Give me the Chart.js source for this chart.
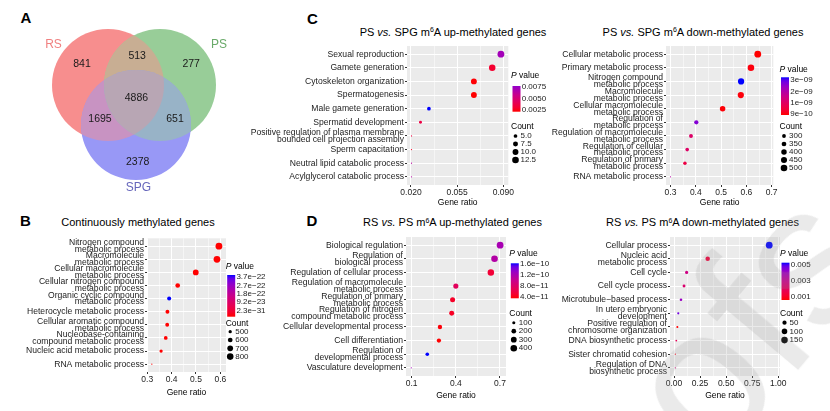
<!DOCTYPE html>
<html><head><meta charset="utf-8">
<script src="https://cdn.jsdelivr.net/npm/chart.js@4.4.1/dist/chart.umd.min.js"></script>
<style>
html,body{margin:0;padding:0;background:#fff;}
body{width:830px;height:411px;position:relative;overflow:hidden;font-family:"Liberation Sans",Arial,sans-serif;}
canvas{position:absolute;}
.letter{position:absolute;font-weight:bold;font-size:15px;line-height:15px;color:#000;}
.title{position:absolute;width:320px;text-align:center;font-size:11px;line-height:13px;color:#000;white-space:nowrap;}
.sup{font-size:7px;position:relative;top:-3.5px;}
.wm{position:absolute;left:748px;top:322px;transform:translate(-50%,-50%) rotate(-50deg);font-size:200px;line-height:200px;color:rgba(150,150,150,0.2);white-space:nowrap;pointer-events:none;z-index:10;}
</style></head><body>
<div class="letter" style="left:20.5px;top:9.7px">A</div>
<div class="letter" style="left:20px;top:213px">B</div>
<div class="letter" style="left:307px;top:10.7px">C</div>
<div class="letter" style="left:306.5px;top:213px">D</div>
<div class="title" style="left:-22px;top:216px">Continuously methylated genes</div>
<div class="title" style="left:293px;top:25.8px">PS <i>vs.</i> SPG m<span class="sup">6</span>A up-methylated genes</div>
<div class="title" style="left:543px;top:25.8px">PS <i>vs.</i> SPG m<span class="sup">6</span>A down-methylated genes</div>
<div class="title" style="left:292.5px;top:216px">RS <i>vs.</i> PS m<span class="sup">6</span>A up-methylated genes</div>
<div class="title" style="left:542.5px;top:216px">RS <i>vs.</i> PS m<span class="sup">6</span>A down-methylated genes</div>
<div class="wm">ofs</div>
<script>
// ================= DATA =================
const vennSetNames = ['RS', 'PS', 'SPG'];
// RS only, RS∩PS, PS only, RS∩PS∩SPG, RS∩SPG, PS∩SPG, SPG only
const vennRegionCounts = [841, 513, 277, 4886, 1695, 651, 2378];

// B: Continuously methylated genes
const bCategories = [
  ['Nitrogen compound','metabolic process'],
  ['Macromolecule','metabolic process'],
  ['Cellular macromolecule','metabolic process'],
  ['Cellular nitrogen compound','metabolic process'],
  ['Organic cyclic compound','metabolic process'],
  ['Heterocycle metabolic process'],
  ['Cellular aromatic compound','metabolic process'],
  ['Nucleobase-containing','compound metabolic process'],
  ['Nucleic acid metabolic process'],
  ['RNA metabolic process']
];
const bGeneRatio = [0.594, 0.586, 0.499, 0.425, 0.390, 0.383, 0.382, 0.376, 0.357, 0.319];
const bCount = [832, 820, 699, 595, 546, 536, 535, 526, 500, 447];
const bPValue = [2.3e-31, 1.1e-30, 4.5e-29, 2.6e-27, 3.7e-22, 1.2e-26, 3.1e-26, 8.0e-26, 5.5e-25, 2.0e-24];
const bXTicks = [0.3, 0.4, 0.5, 0.6];
const bXTickLabels = ['0.3', '0.4', '0.5', '0.6'];
const bPLegendLabels = ['3.7e\u221222', '2.7e\u221222', '1.8e\u221222', '9.2e\u221223', '2.3e\u221231'];
const bCountBreaks = [500, 600, 700, 800];
const bCountLabels = ['500', '600', '700', '800'];

// C left: PS vs SPG up
const c1Categories = [
  ['Sexual reproduction'],
  ['Gamete generation'],
  ['Cytoskeleton organization'],
  ['Spermatogenesis'],
  ['Male gamete generation'],
  ['Spermatid development'],
  ['Positive regulation of plasma membrane','bounded cell projection assembly'],
  ['Sperm capacitation'],
  ['Neutral lipid catabolic process'],
  ['Acylglycerol catabolic process']
];
const c1GeneRatio = [0.0882, 0.0816, 0.0677, 0.0677, 0.0336, 0.0272, 0.0204, 0.0204, 0.0204, 0.0204];
const c1Count = [13, 12, 10, 10, 5, 4, 3, 3, 3, 3];
const c1PValue = [0.0073, 0.0030, 0.0022, 0.0021, 0.0095, 0.0036, 0.0034, 0.0028, 0.0065, 0.0066];
const c1XTicks = [0.020, 0.055, 0.090];
const c1XTickLabels = ['0.020', '0.055', '0.090'];
const c1PLegendLabels = ['0.0075', '0.0050', '0.0025'];
const c1CountBreaks = [5, 7.5, 10, 12.5];
const c1CountLabels = ['5.0', '7.5', '10.0', '12.5'];

// C right: PS vs SPG down
const c2Categories = [
  ['Cellular metabolic process'],
  ['Primary metabolic process'],
  ['Nitrogen compound','metabolic process'],
  ['Macromolecule','metabolic process'],
  ['Cellular macromolecule','metabolic process'],
  ['Regulation of','metabolic process'],
  ['Regulation of macromolecule','metabolic process'],
  ['Regulation of cellular','metabolic process'],
  ['Regulation of primary','metabolic process'],
  ['RNA metabolic process']
];
const c2GeneRatio = [0.645, 0.618, 0.579, 0.578, 0.506, 0.402, 0.381, 0.366, 0.357, 0.300];
const c2Count = [516, 494, 463, 462, 405, 322, 305, 293, 286, 240];
const c2PValue = [8.6e-10, 9.3e-10, 3.05e-9, 9.2e-10, 9.0e-10, 2.66e-9, 1.63e-9, 1.6e-9, 1.3e-9, 2.2e-9];
const c2XTicks = [0.3, 0.4, 0.5, 0.6, 0.7];
const c2XTickLabels = ['0.3', '0.4', '0.5', '0.6', '0.7'];
const c2PLegendLabels = ['3e\u221209', '2e\u221209', '1e\u221209', '9e\u221210'];
const c2CountBreaks = [300, 350, 400, 450, 500];
const c2CountLabels = ['300', '350', '400', '450', '500'];

// D left: RS vs PS up
const d1Categories = [
  ['Biological regulation'],
  ['Regulation of','biological process'],
  ['Regulation of cellular process'],
  ['Regulation of macromolecule','metabolic process'],
  ['Regulation of primary','metabolic process'],
  ['Regulation of nitrogen','compound metabolic process'],
  ['Cellular developmental process'],
  ['Cell differentiation'],
  ['Regulation of','developmental process'],
  ['Vasculature development']
];
const d1GeneRatio = [0.701, 0.663, 0.638, 0.400, 0.378, 0.372, 0.292, 0.285, 0.206, 0.097];
const d1Count = [421, 398, 383, 240, 227, 223, 175, 171, 124, 58];
const d1PValue = [1.24e-10, 1.17e-10, 5.7e-11, 7.6e-11, 5.1e-11, 5.0e-11, 4.1e-11, 3.8e-11, 1.65e-10, 1.27e-10];
const d1XTicks = [0.1, 0.4, 0.7];
const d1XTickLabels = ['0.1', '0.4', '0.7'];
const d1PLegendLabels = ['1.6e\u221210', '1.2e\u221210', '8.0e\u221211', '4.0e\u221211'];
const d1CountBreaks = [100, 200, 300, 400];
const d1CountLabels = ['100', '200', '300', '400'];

// D right: RS vs PS down
const d2Categories = [
  ['Cellular process'],
  ['Nucleic acid','metabolic process'],
  ['Cell cycle'],
  ['Cell cycle process'],
  ['Microtubule\u2212based process'],
  ['In utero embryonic','development'],
  ['Positive regulation of','chromosome organization'],
  ['DNA biosynthetic process'],
  ['Sister chromatid cohesion'],
  ['Regulation of DNA','biosynthetic process']
];
const d2GeneRatio = [0.913, 0.323, 0.121, 0.096, 0.067, 0.041, 0.032, 0.022, 0.013, 0.013];
const d2Count = [164, 58, 22, 17, 12, 7, 6, 4, 2, 2];
const d2PValue = [0.0051, 0.00176, 0.0030, 0.0026, 0.0041, 0.0046, 0.0011, 0.0022, 0.0013, 0.0028];
const d2XTicks = [0.00, 0.25, 0.50, 0.75, 1.00];
const d2XTickLabels = ['0.00', '0.25', '0.50', '0.75', '1.00'];
const d2PLegendLabels = ['0.005', '0.003', '0.001'];
const d2CountBreaks = [50, 100, 150];
const d2CountLabels = ['50', '100', '150'];

// ================= STYLE / LAYOUT =================
const FF = '"Liberation Sans", Arial, sans-serif';
const TXT = '#222';
const R_MIN = 0.6, R_MAX = 3.4;
const PAL = [[0,255,0,0],[0.125,244,0,49],[0.25,232,0,80],[0.5,202,0,137],[0.75,154,0,195],[0.875,115,0,225],[0.9375,84,0,240],[1,0,0,255]];
function palette(t) {
  t = Math.max(0, Math.min(1, t));
  for (let i = 1; i < PAL.length; i++) {
    if (t <= PAL[i][0]) {
      const a = PAL[i-1], b = PAL[i], f = (t - a[0]) / (b[0] - a[0]);
      return 'rgb(' + [1,2,3].map(k => Math.round(a[k] + (b[k]-a[k])*f)).join(',') + ')';
    }
  }
  return 'rgb(0,0,255)';
}

const bgPlugin = {
  id: 'panelBg',
  beforeDraw(chart) {
    const {ctx, chartArea: a} = chart;
    ctx.save(); ctx.fillStyle = '#EBEBEB';
    ctx.fillRect(a.left, a.top, a.right - a.left, a.bottom - a.top);
    ctx.restore();
  }
};

function makeCanvas(box) {
  const cv = document.createElement('canvas');
  cv.width = box.w; cv.height = box.h;
  cv.style.left = box.x + 'px'; cv.style.top = box.y + 'px';
  cv.style.width = box.w + 'px'; cv.style.height = box.h + 'px';
  document.body.appendChild(cv);
  return cv;
}

function makeBubble(o) {
  const cv = makeCanvas(o.box);
  const n = o.cats.length;
  const pMin = Math.min(...o.p), pMax = Math.max(...o.p);
  const cMin = Math.min(...o.count), cMax = Math.max(...o.count);
  const rad = c => R_MIN + (R_MAX - R_MIN) * Math.sqrt(Math.max(0, Math.min(1, (c - cMin) / (cMax - cMin))));
  const col = p => palette((p - pMin) / (pMax - pMin));
  const majors = o.xTicks;
  const minors = majors.slice(1).map((v, i) => (v + majors[i]) / 2);
  const isMajor = v => majors.indexOf(v) >= 0;
  const L = o.leg;
  const legendPlugin = {
    id: 'ggLegend',
    afterDraw(chart) {
      const ctx = chart.ctx, ox = o.box.x, oy = o.box.y;
      ctx.save();
      ctx.textBaseline = 'middle'; ctx.textAlign = 'left';
      ctx.fillStyle = '#000';
      ctx.font = 'italic 8.5px ' + FF;
      ctx.fillText('P', L.x - ox, L.pTitle - oy);
      const w = ctx.measureText('P').width;
      ctx.font = '8.5px ' + FF;
      ctx.fillText(' value', L.x - ox + w, L.pTitle - oy);
      const bx = L.x + 1.5 - ox, bw = 8, bt = L.barTop - oy, bb = L.barBot - oy;
      const g = ctx.createLinearGradient(0, bb, 0, bt);
      for (let k = 0; k <= 24; k++) { const f = k / 24; g.addColorStop(f, palette(o.cbT[0] + (o.cbT[1] - o.cbT[0]) * f)); }
      ctx.fillStyle = g; ctx.fillRect(bx, bt, bw, bb - bt);
      ctx.fillStyle = TXT; ctx.font = '8px ' + FF;
      const nL = o.cbLabels.length;
      o.cbLabels.forEach((s, i) => {
        const f = o.cbFrac[0] + (o.cbFrac[1] - o.cbFrac[0]) * (i / (nL - 1));
        ctx.fillText(s, bx + bw + 1.2, bb - f * (bb - bt));
      });
      ctx.fillStyle = '#000'; ctx.font = '8.5px ' + FF;
      ctx.fillText('Count', L.x - ox, L.cTitle - oy);
      o.countBreaks.forEach((c, i) => {
        const y = L.c0 + i * L.cStep - oy;
        ctx.beginPath(); ctx.arc(L.x + 4.5 - ox, y, rad(c), 0, 2 * Math.PI);
        ctx.fillStyle = '#000'; ctx.fill();
        ctx.fillStyle = TXT; ctx.font = '8px ' + FF;
        ctx.fillText(o.countLabels[i], L.x + 9.5 - ox, y);
      });
      ctx.restore();
    }
  };
  new Chart(cv, {
    type: 'bubble',
    data: { datasets: [{
      data: o.ratio.map((v, i) => ({ x: v, y: i, r: rad(o.count[i]) })),
      backgroundColor: o.p.map(col), borderWidth: 0, hoverBorderWidth: 0, clip: false
    }]},
    options: {
      responsive: false, animation: false, events: [], devicePixelRatio: 1,
      layout: { autoPadding: false, padding: { left: 0, top: o.plot.t - o.box.y, right: o.box.x + o.box.w - o.plot.r, bottom: 0 } },
      plugins: { legend: { display: false }, tooltip: { enabled: false } },
      scales: {
        x: {
          type: 'linear', min: o.xMin, max: o.xMax,
          afterBuildTicks: s => { s.ticks = majors.concat(minors).sort((a, b) => a - b).map(v => ({ value: v })); },
          afterFit: s => { s.height = o.box.y + o.box.h - o.plot.b; },
          ticks: { autoSkip: false, maxRotation: 0, minRotation: 0, padding: 1.8, color: TXT,
                   font: { family: FF, size: 8.5, lineHeight: 1 },
                   callback: v => { const k = majors.indexOf(v); return k >= 0 ? o.xTickLabels[k] : ''; } },
          grid: { color: '#fff', lineWidth: c => (c.tick && isMajor(c.tick.value)) ? 1 : 0.5,
                  tickColor: c => (c.tick && isMajor(c.tick.value)) ? '#333' : 'rgba(0,0,0,0)',
                  tickLength: 2, drawTicks: true },
          border: { display: false },
          title: { display: true, text: 'Gene ratio', color: '#000', font: { family: FF, size: 8.5 },
                   padding: { top: 0, bottom: o.titlePad } }
        },
        y: {
          type: 'linear', min: -0.6, max: n - 0.4, reverse: true,
          afterBuildTicks: s => { s.ticks = o.cats.map((_, i) => ({ value: i })); },
          afterFit: s => { s.width = o.plot.l - o.box.x; },
          ticks: { autoSkip: false, padding: 1, color: TXT,
                   font: { family: FF, size: 8.6, lineHeight: 0.8 },
                   callback: v => o.cats[v] },
          grid: { color: '#fff', lineWidth: 1, tickColor: '#333', tickLength: 2, drawTicks: true },
          border: { display: false }
        }
      }
    },
    plugins: [bgPlugin, legendPlugin]
  });
}

// ---------- Venn (bubble chart) ----------
const vennLayout = {
  box: { x: 0, y: 0, w: 260, h: 200 },
  circles: [ { cx: 108, cy: 85, r: 56 }, { cx: 160, cy: 85, r: 56 }, { cx: 136, cy: 125, r: 55 } ],
  colors: [[247, 142, 142], [152, 205, 152], [152, 152, 246]],
  labelColors: ['#F08080', '#6AAA6A', '#6666BB'],
  setAnchors: [[53.5, 45], [219, 45], [138.5, 187.3]],
  regionAnchors: [[82, 64.3], [137.2, 56.3], [191.2, 64.5], [136.4, 98.5], [100, 118.8], [175, 118.8], [137.7, 162.2]]
};
(function makeVenn() {
  const V = vennLayout;
  const cv = makeCanvas(V.box);
  const rgb = c => 'rgb(' + c.map(Math.round).join(',') + ')';
  const avg = idx => { const s = [0, 0, 0]; idx.forEach(i => { for (let k = 0; k < 3; k++) s[k] += V.colors[i][k] / idx.length; }); return rgb(s); };
  const vennPlugin = {
    id: 'vennOverlap',
    afterDatasetsDraw(chart) {
      const ctx = chart.ctx, els = chart.getDatasetMeta(0).data;
      const xs = chart.scales.x, ys = chart.scales.y;
      const clipTo = e => { ctx.beginPath(); ctx.arc(e.x, e.y, e.options.radius, 0, 2 * Math.PI); ctx.clip(); };
      [[0, 1], [0, 2], [1, 2], [0, 1, 2]].forEach(idx => {
        ctx.save(); idx.forEach(i => clipTo(els[i]));
        ctx.fillStyle = avg(idx); ctx.fillRect(0, 0, chart.width, chart.height); ctx.restore();
      });
      ctx.save(); ctx.textAlign = 'center'; ctx.textBaseline = 'middle';
      ctx.font = '10.5px ' + FF; ctx.fillStyle = '#1a1a1a';
      vennRegionCounts.forEach((c, i) => ctx.fillText(String(c), xs.getPixelForValue(V.regionAnchors[i][0]), ys.getPixelForValue(V.regionAnchors[i][1])));
      ctx.font = '12px ' + FF;
      vennSetNames.forEach((s, i) => { ctx.fillStyle = V.labelColors[i]; ctx.fillText(s, xs.getPixelForValue(V.setAnchors[i][0]), ys.getPixelForValue(V.setAnchors[i][1])); });
      ctx.restore();
    }
  };
  new Chart(cv, {
    type: 'bubble',
    data: { datasets: [{
      data: V.circles.map(c => ({ x: c.cx, y: c.cy, r: c.r })),
      backgroundColor: V.colors.map(rgb), borderWidth: 0, clip: false
    }]},
    options: {
      responsive: false, animation: false, events: [], devicePixelRatio: 1,
      layout: { autoPadding: false, padding: 0 },
      plugins: { legend: { display: false }, tooltip: { enabled: false } },
      scales: {
        x: { type: 'linear', display: false, min: 0, max: V.box.w },
        y: { type: 'linear', display: false, min: 0, max: V.box.h, reverse: true }
      }
    },
    plugins: [vennPlugin]
  });
})();

// ---------- Dot plots ----------
makeBubble({ box: {x:0, y:200, w:300, h:211}, plot: {l:147, r:226, t:238.3, b:372},
  xMin: 0.2992, xMax: 0.623, cats: bCategories, ratio: bGeneRatio, count: bCount, p: bPValue,
  xTicks: bXTicks, xTickLabels: bXTickLabels, titlePad: 12.9,
  cbLabels: bPLegendLabels, cbFrac: [0.945, 0.153], cbT: [0, 1],
  countBreaks: bCountBreaks, countLabels: bCountLabels,
  leg: { x: 225.7, pTitle: 267, barTop: 275, barBot: 316.7, cTitle: 324, c0: 331.7, cStep: 8.3 } });

makeBubble({ box: {x:230, y:0, w:330, h:212}, plot: {l:407, r:508.3, t:46, b:185},
  xMin: 0.01697, xMax: 0.0938, cats: c1Categories, ratio: c1GeneRatio, count: c1Count, p: c1PValue,
  xTicks: c1XTicks, xTickLabels: c1XTickLabels, titlePad: 3.9,
  cbLabels: c1PLegendLabels, cbFrac: [0.96, 0.066], cbT: [0, 0.78],
  countBreaks: c1CountBreaks, countLabels: c1CountLabels,
  leg: { x: 511, pTitle: 76, barTop: 86, barBot: 111.7, cTitle: 127, c0: 136, cStep: 8 } });

makeBubble({ box: {x:540, y:0, w:290, h:212}, plot: {l:666, r:773.3, t:46, b:185},
  xMin: 0.2822, xMax: 0.7064, cats: c2Categories, ratio: c2GeneRatio, count: c2Count, p: c2PValue,
  xTicks: c2XTicks, xTickLabels: c2XTickLabels, titlePad: 3.9,
  cbLabels: c2PLegendLabels, cbFrac: [0.928, 0.026], cbT: [0, 1],
  countBreaks: c2CountBreaks, countLabels: c2CountLabels,
  leg: { x: 779.5, pTitle: 70, barTop: 77.3, barBot: 115, cTitle: 127, c0: 136, cStep: 8 } });

makeBubble({ box: {x:270, y:200, w:290, h:211}, plot: {l:406, r:506, t:237, b:376},
  xMin: 0.0613, xMax: 0.741, cats: d1Categories, ratio: d1GeneRatio, count: d1Count, p: d1PValue,
  xTicks: d1XTicks, xTickLabels: d1XTickLabels, titlePad: 9.9,
  cbLabels: d1PLegendLabels, cbFrac: [0.98, 0.03], cbT: [0, 1],
  countBreaks: d1CountBreaks, countLabels: d1CountLabels,
  leg: { x: 509.3, pTitle: 254, barTop: 263.3, barBot: 298.3, cTitle: 313.3, c0: 322.7, cStep: 8.5 } });

makeBubble({ box: {x:550, y:200, w:280, h:211}, plot: {l:670, r:780, t:237, b:376},
  xMin: -0.0384, xMax: 1.0163, cats: d2Categories, ratio: d2GeneRatio, count: d2Count, p: d2PValue,
  xTicks: d2XTicks, xTickLabels: d2XTickLabels, titlePad: 9.9,
  cbLabels: d2PLegendLabels, cbFrac: [0.94, 0.088], cbT: [0, 1],
  countBreaks: d2CountBreaks, countLabels: d2CountLabels,
  leg: { x: 780, pTitle: 253.3, barTop: 262.7, barBot: 300, cTitle: 313.3, c0: 322.7, cStep: 8.7 } });
</script>
</body></html>
